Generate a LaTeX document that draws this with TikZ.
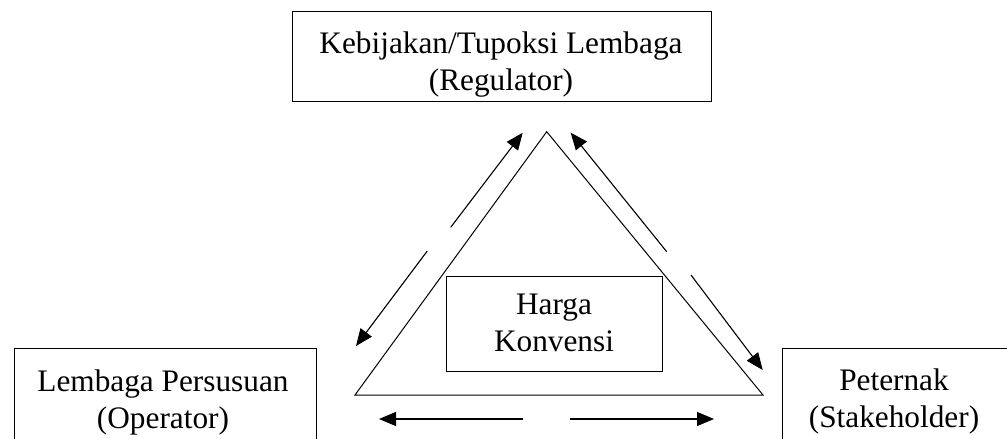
\documentclass[tikz,border=0pt]{standalone}
\usepackage{fontspec}
\setmainfont{Liberation Serif}
\usetikzlibrary{arrows.meta}

\begin{document}
\begin{tikzpicture}[x=1pt, y=-1pt,
	box/.style={draw, line width=1pt, inner sep=0pt},
	txt/.style={align=center, inner sep=0pt, font=\fontsize{31.3}{37}\selectfont},
	flow/.style={line width=1.1pt, -{Triangle[length=17pt, width=14pt]}}]
	\useasboundingbox (0,0) rectangle (1007,439);
	% Draw the boxes
	\node[box, minimum width=419pt, minimum height=90pt] (reg) at (501.5,56) {};
	\node[box, minimum width=302pt, minimum height=102pt] (opr) at (165,399) {};
	\node[box, minimum width=248pt, minimum height=102pt] (stk) at (906,399) {};
	\node[box, minimum width=216pt, minimum height=95pt] (harga) at (554,323.5) {};
	% Texts inside the boxes
	\node[txt] (regtxt) at (501,64.2) {Kebijakan/Tupoksi Lembaga\\(Regulator)};
	\node[txt] (oprtxt) at (163,402) {Lembaga Persusuan\\(Operator)};
	\node[txt] (stktxt) at (894,401.5) {Peternak\\(Stakeholder)};
	\node[txt] (hargatxt) at (554,323) {Harga\\Konvensi};
	% Draw the triangle
	\coordinate (top) at (546.7,131.7);
	\coordinate (bl) at (355,395);
	\coordinate (br) at (763,395);
	\draw[line width=1pt] (top) -- (bl) -- (br) -- cycle;
	% Arrow ends
	\coordinate (l1a) at (450.7,227.3);
	\coordinate (l1b) at (522.7,132.7);
	\coordinate (l2a) at (427.3,251);
	\coordinate (l2b) at (356,346);
	\coordinate (r1a) at (666.7,251.7);
	\coordinate (r1b) at (570.7,132.7);
	\coordinate (r2a) at (691,275);
	\coordinate (r2b) at (762.7,370);
	\coordinate (b1a) at (523,419);
	\coordinate (b1b) at (379,419);
	\coordinate (b2a) at (570,419);
	\coordinate (b2b) at (714,419);
	% Connect them with arrows
	\draw[flow] (l1a) -- (l1b);
	\draw[flow] (l2a) -- (l2b);
	\draw[flow] (r1a) -- (r1b);
	\draw[flow] (r2a) -- (r2b);
	\draw[flow] (b1a) -- (b1b);
	\draw[flow] (b2a) -- (b2b);
\end{tikzpicture}
\end{document}
